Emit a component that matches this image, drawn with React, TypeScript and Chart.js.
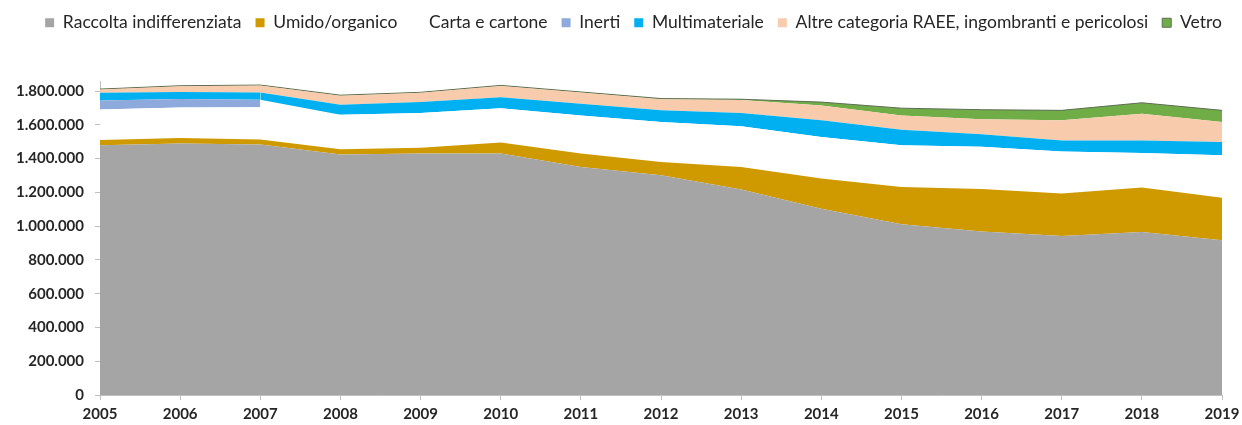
import React, { useEffect, useRef } from "react";
import { Chart, registerables } from "chart.js";

Chart.register(...registerables);

const years = ["2005","2006","2007","2008","2009","2010","2011","2012","2013","2014","2015","2016","2017","2018","2019"];
const raccolta = [1480000,1490000,1484000,1425000,1430000,1430000,1350000,1301000,1217000,1104000,1011000,968000,942000,966000,917000];
const umido = [30000,33000,30000,30000,35000,65000,80000,79000,133000,178000,221000,252000,251000,263000,252000];
const carta = [181000,180000,191000,205000,205000,204000,226000,237000,242000,246000,247000,250000,250000,204000,251000];
const inerti = [54000,51000,44000,0,0,0,0,0,0,0,0,0,0,0,0];
const multimateriale = [45000,41000,43000,59000,65000,65000,69000,69000,78000,99000,92000,75000,65000,75000,78000];
const altre = [19000,34000,41000,54000,55000,67000,67000,66000,77000,88000,85000,89000,119000,158000,119000];
const vetro = [3000,3000,3000,3000,3000,3000,3000,4000,5000,20000,43000,56000,59000,65000,69000];

const yTicks = [0,200000,400000,600000,800000,1000000,1200000,1400000,1600000,1800000];

function fmt(v: number): string {
  return String(Math.round(v)).replace(/\B(?=(\d{3})+(?!\d))/g, ".");
}

const legendHeightPlugin = {
  id: "legendHeight",
  afterInit(chart: any) {
    const lg = chart.legend;
    if (!lg) return;
    const orig = lg.fit.bind(lg);
    lg.fit = function () {
      orig();
      this.height = 81;
      if (Array.isArray(this.lineWidths)) {
        this.lineWidths = this.lineWidths.map((w: number) => w - 25);
      }
    };
  },
};

export default function App() {
  const ref = useRef<HTMLCanvasElement | null>(null);
  useEffect(() => {
    if (!ref.current) return;
    Chart.defaults.font.family = "Lato";
    const mk = (label: string, data: number[], color: string, fill: any, extra: any = {}) => ({
      label, data, backgroundColor: color, borderColor: color, borderWidth: 0,
      fill, pointRadius: 0, pointHoverRadius: 0, tension: 0, ...extra,
    });
    const chart = new Chart(ref.current, {
      type: "line",
      plugins: [legendHeightPlugin],
      data: {
        labels: years,
        datasets: [
          mk("Raccolta indifferenziata", raccolta, "#A5A5A5", "origin"),
          mk("Umido/organico", umido, "#CF9A00", "-1"),
          mk("Carta e cartone", carta, "#FFFFFF", "-1"),
          mk("Inerti", inerti, "#8EA9DB", "-1", {
            segment: { backgroundColor: (ctx: any) => (ctx.p0DataIndex >= 2 ? "rgba(255,255,255,0)" : "#8EA9DB") },
          }),
          mk("Multimateriale", multimateriale, "#00B0F0", "-1"),
          mk("Altre categoria RAEE, ingombranti e pericolosi", altre, "#F8CBAD", "-1"),
          mk("Vetro", vetro, "#70AD47", "-1", { borderColor: "#5f6e55", borderWidth: 1 }),
        ],
      },
      options: {
        responsive: false,
        animation: false,
        layout: { padding: { top: 0, right: 0, left: 0, bottom: 0 } },
        plugins: {
          tooltip: { enabled: false },
          legend: {
            position: "top",
            labels: {
              boxWidth: 9, boxHeight: 9, padding: 14,
              color: "#262626",
              font: { size: 17.5, family: "Lato" },
            },
          },
        },
        scales: {
          x: {
            offset: false,
            grid: { display: true, drawOnChartArea: false, tickLength: 5, color: "#BFBFBF" },
            border: { color: "#BFBFBF" },
            ticks: { color: "#262626", font: { size: 15, weight: "bold" }, padding: 5, maxRotation: 0 },
            afterFit: (s: any) => { s.height = 30; s.paddingRight = 20; },
          },
          y: {
            stacked: true,
            min: 0,
            max: 1860000,
            afterBuildTicks: (s: any) => { s.ticks = yTicks.map((v) => ({ value: v })); },
            grid: { display: true, drawOnChartArea: false, tickLength: 5, color: "#BFBFBF" },
            border: { color: "#BFBFBF" },
            ticks: { color: "#262626", font: { size: 15, weight: "bold" }, padding: 11, callback: (v: any) => fmt(Number(v)) },
            afterFit: (s: any) => { s.width = 100; },
          },
        },
      },
    });
    return () => chart.destroy();
  }, []);
  return (
    <div style={{ position: "absolute", left: 0, top: 0, width: 1242, height: 425, background: "#fff" }}>
      <canvas ref={ref} width={1242} height={425} style={{ display: "block" }} />
    </div>
  );
}
